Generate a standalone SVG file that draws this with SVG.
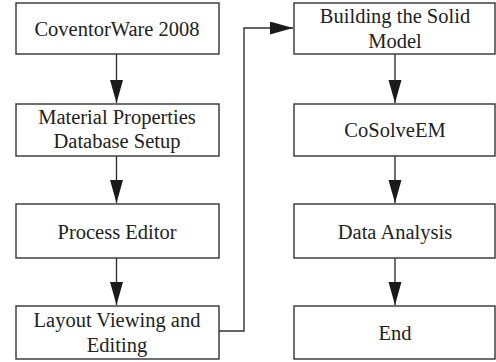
<svg xmlns="http://www.w3.org/2000/svg" width="496" height="362" viewBox="0 0 496 362">
<defs>
<style>
.box{fill:#fff;stroke:#333;stroke-width:1.4}
.t{font-family:'Liberation Serif','Times New Roman','DejaVu Serif',serif;font-size:20.5px;fill:#222;text-anchor:middle}
.c{fill:none;stroke:#333;stroke-width:1.4}
</style>
<marker id="ah" markerWidth="24" markerHeight="14" refX="23" refY="6.5" orient="auto" markerUnits="userSpaceOnUse">
<path d="M0,0 L23,6.5 L0,13 Z" fill="#1a1a1a"/>
</marker>
</defs>
<rect width="496" height="362" fill="#fff"/>
<g id="connectors">
<line class="c" x1="116.5" y1="54" x2="116.5" y2="103" marker-end="url(#ah)"/>
<line class="c" x1="116.5" y1="156" x2="116.5" y2="203" marker-end="url(#ah)"/>
<line class="c" x1="116.5" y1="258" x2="116.5" y2="305" marker-end="url(#ah)"/>
<polyline class="c" points="219,331 244,331 244,28 293,28" marker-end="url(#ah)"/>
<line class="c" x1="395" y1="54" x2="395" y2="103" marker-end="url(#ah)"/>
<line class="c" x1="395" y1="156" x2="395" y2="203" marker-end="url(#ah)"/>
<line class="c" x1="395" y1="258" x2="395" y2="305" marker-end="url(#ah)"/>
</g>
<g id="n1"><rect class="box" x="16" y="3" width="203" height="51"/><text class="t" x="117" y="36">CoventorWare 2008</text></g>
<g id="n2"><rect class="box" x="16" y="104" width="203" height="52"/><text class="t" x="117" y="124">Material Properties</text><text class="t" x="117" y="148">Database Setup</text></g>
<g id="n3"><rect class="box" x="16" y="204" width="203" height="54"/><text class="t" x="117" y="239">Process Editor</text></g>
<g id="n4"><rect class="box" x="16" y="306" width="203" height="53"/><text class="t" x="117" y="327">Layout Viewing and</text><text class="t" x="117" y="352">Editing</text></g>
<g id="n5"><rect class="box" x="294" y="3" width="201" height="51"/><text class="t" x="395" y="23">Building the Solid</text><text class="t" x="395" y="48">Model</text></g>
<g id="n6"><rect class="box" x="294" y="104" width="201" height="52"/><text class="t" x="395" y="137">CoSolveEM</text></g>
<g id="n7"><rect class="box" x="294" y="204" width="201" height="54"/><text class="t" x="395" y="239">Data Analysis</text></g>
<g id="n8"><rect class="box" x="294" y="306" width="201" height="53"/><text class="t" x="395" y="340">End</text></g>
</svg>
